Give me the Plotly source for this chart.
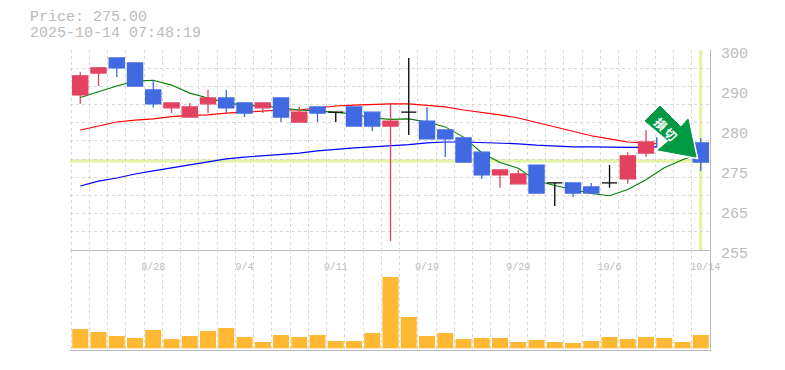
import plotly.graph_objects as go

# ---- data ----
idx = list(range(35))
opens = [289.9,294.8,298.2,297.1,291.0,287.0,284.9,287.9,289.2,288.1,287.0,289.2,283.8,287.2,286.0,287.2,286.0,282.9,286.0,284.0,282.0,280.2,277.0,271.9,269.9,274.1,270.1,270.1,269.2,270.1,271.0,276.8,280.2,279.1,279.1]
highs = [295.0,296.2,298.2,297.1,293.2,288.1,288.1,291.0,291.0,288.1,288.1,289.2,287.2,287.2,286.0,287.2,286.0,288.1,298.2,287.2,282.0,280.2,277.0,273.0,273.0,274.1,270.1,270.1,270.1,274.1,277.0,282.0,280.2,279.1,280.2]
lows = [287.9,291.9,293.9,291.9,287.0,285.8,284.9,285.8,285.8,284.9,285.8,283.8,283.8,283.8,283.8,282.9,281.8,257.0,280.9,280.0,275.9,274.8,271.0,269.0,269.9,267.8,264.9,266.9,267.8,269.0,269.9,275.9,278.2,278.2,272.8]
closes = [294.2,296.0,296.0,291.9,287.9,288.1,287.2,289.2,287.0,285.8,288.1,284.9,286.0,285.8,286.0,282.9,282.9,284.0,286.0,280.0,280.0,274.8,271.9,273.0,272.1,267.8,270.1,267.8,267.8,270.1,276.2,279.3,278.2,278.2,274.8]

ma_short = [289.3,290.6,291.9,293.0,293.2,292.1,290.3,289.2,288.1,287.6,287.4,287.0,286.5,286.3,286.0,285.6,284.7,284.4,284.5,283.8,282.7,280.4,276.9,274.7,273.4,270.6,269.5,268.6,267.7,267.2,268.6,270.8,273.5,275.3,276.7]
ma_mid = [282.0,282.9,283.8,284.2,284.5,285.0,285.3,285.4,285.8,286.0,286.2,286.5,286.5,287.0,287.4,287.6,287.8,287.9,287.9,287.6,287.2,286.5,286.0,285.4,284.7,283.7,282.7,281.7,280.7,280.0,279.3,279.1,278.7,278.4,278.2]
ma_long = [269.4,270.5,271.2,272.1,272.8,273.5,274.1,274.8,275.5,275.9,276.2,276.4,276.8,277.3,277.7,278.0,278.2,278.4,278.7,279.1,279.3,279.3,279.2,279.1,278.9,278.6,278.4,278.2,278.2,278.1,278.1,278.1,278.4,278.6,278.9]
volumes = [19.3,16.3,12.3,10.3,18.3,9.3,12.3,17.3,20.3,11.3,6.3,13.3,11.3,13.3,7.3,7.3,15.3,71.3,31.3,12.3,15.3,9.3,10.3,10.3,6.3,8.3,6.3,5.3,7.3,11.3,9.3,11.3,10.3,6.3,13.3]
date_ticks = [4, 9, 14, 19, 24, 29, 34.25]
date_labels = ["8/28", "9/4", "9/11", "9/19", "9/29", "10/6", "10/14"]
price_ticks = [300, 291, 282, 273, 264, 255]
price_labels = ["300", "290", "280", "275", "265", "255"]
price_now = 275.0
stamp_title = "Price: 275.00"
stamp_time = "2025-10-14 07:48:19"
arrow_label = "損\u2009切"

GRAY = "#bbbbbb"
GRID = "#d8d8d8"
RED = "#E2425F"
BLUE = "#4169E1"
GREEN = "#009944"
MONO = "Liberation Mono"

x_grid = [i - 0.5 for i in idx]
y_grid = [300 - k * 45 / 11 for k in range(12)]
arrow_outline = [(660, 106), (681, 127), (688, 119), (696, 157), (658, 150), (669, 141), (645, 121)]


def select(cond):
    keep = [i for i in idx if cond(opens[i], closes[i])]
    return dict(
        x=keep,
        open=[opens[i] for i in keep],
        high=[highs[i] for i in keep],
        low=[lows[i] for i in keep],
        close=[closes[i] for i in keep],
    )


def px_path(points):
    parts = []
    for n, (px, py) in enumerate(points):
        parts.append("%s %f %f" % ("M" if n == 0 else "L", (px - 70) / 640, (350 - py) / 300))
    return " ".join(parts) + " Z"


fig = go.Figure()
for vals, col, w in [(ma_long, "#0000FF", 1.2), (ma_mid, "#FF0000", 1.2), (ma_short, "#008000", 1.1)]:
    fig.add_trace(go.Scatter(x=idx, y=vals, mode="lines", line=dict(color=col, width=w),
                             showlegend=False, hoverinfo="skip", xaxis="x", yaxis="y"))

for cond, col in [
    (lambda o, c: c > o, RED),
    (lambda o, c: c < o, BLUE),
    (lambda o, c: c == o, "#000000"),
]:
    style = dict(line=dict(color=col, width=1.3), fillcolor=col)
    fig.add_trace(go.Candlestick(**select(cond), increasing=style, decreasing=style,
                                 whiskerwidth=0, showlegend=False, hoverinfo="skip",
                                 xaxis="x3", yaxis="y3"))

fig.add_trace(go.Bar(x=idx, y=volumes, marker=dict(color="#FFB833", line=dict(width=0)),
                     showlegend=False, hoverinfo="skip", xaxis="x2", yaxis="y2"))

minor_x = dict(tickvals=x_grid, showgrid=True, gridcolor=GRID, griddash="3px,3px", gridwidth=1, ticklen=0)
x_range = [-0.562, 34.505]
y_range = [255, 300]

fig.update_layout(
    width=785, height=370,
    margin=dict(l=70, r=75, t=50, b=20, autoexpand=False),
    paper_bgcolor="white", plot_bgcolor="white",
    bargap=0.12, boxgap=0.17, boxgroupgap=0, showlegend=False,
    font=dict(family=MONO, color=GRAY),
    xaxis=dict(
        domain=[0, 1], range=x_range, anchor="y", type="linear",
        tickmode="array", tickvals=date_ticks, ticktext=date_labels,
        tickfont=dict(family=MONO, size=10, color=GRAY),
        showgrid=False, zeroline=False, ticks="", ticklabelstandoff=7,
        showline=True, linecolor=GRAY, linewidth=1, minor=minor_x,
    ),
    yaxis=dict(
        domain=[1 / 3, 1], range=y_range, side="right", anchor="x",
        tickmode="array", tickvals=price_ticks, ticktext=price_labels,
        tickfont=dict(family=MONO, size=15, color=GRAY),
        ticklabelshift=3, ticklabelstandoff=7,
        showgrid=False, zeroline=False, ticks="",
        showline=True, linecolor=GRAY, linewidth=1,
        minor=dict(tickvals=y_grid, showgrid=True, gridcolor=GRID, griddash="3px,3px", gridwidth=1, ticklen=0),
    ),
    xaxis3=dict(overlaying="x", anchor="y3", range=x_range, type="linear", visible=False,
                rangeslider=dict(visible=False), showgrid=False, zeroline=False),
    yaxis3=dict(overlaying="y", anchor="x3", range=y_range, side="right", visible=False,
                showgrid=False, zeroline=False),
    xaxis2=dict(
        domain=[0, 1], range=x_range, anchor="y2", type="linear",
        showticklabels=False, showgrid=False, zeroline=False, ticks="",
        showline=True, linecolor=GRAY, linewidth=1, minor=minor_x,
    ),
    yaxis2=dict(
        domain=[0, 0.3317], range=[-1.7, 97.8], side="right", anchor="x2",
        showticklabels=False, showgrid=False, zeroline=False, ticks="",
        showline=True, linecolor=GRAY, linewidth=1,
    ),
    shapes=[
        dict(type="line", xref="paper", x0=0, x1=1, yref="y", y0=price_now, y1=price_now,
             line=dict(color="#E4F5A8", width=3.5), layer="below"),
        dict(type="line", xref="x", x0=idx[-1], x1=idx[-1], yref="y domain", y0=0, y1=1,
             line=dict(color="#E4F5A8", width=3.5), layer="below"),
        dict(type="path", xref="paper", yref="paper",
             path=px_path([(657.5, 128), (680, 128), (680, 152), (657.5, 151)]),
             fillcolor="white", line=dict(width=0), layer="above"),
        dict(type="path", xref="paper", yref="paper", path=px_path(arrow_outline),
             fillcolor="white", line=dict(color="white", width=4), layer="above"),
        dict(type="path", xref="paper", yref="paper", path=px_path(arrow_outline),
             fillcolor=GREEN, line=dict(color=GREEN, width=1), layer="above"),
    ],
    annotations=[
        dict(text=stamp_title, xref="paper", yref="paper", x=(28 - 70) / 640, y=(350 - 18) / 300,
             xanchor="left", yanchor="middle", showarrow=False, font=dict(family=MONO, size=15, color=GRAY)),
        dict(text=stamp_time, xref="paper", yref="paper", x=(28 - 70) / 640, y=(350 - 33) / 300,
             xanchor="left", yanchor="middle", showarrow=False, font=dict(family=MONO, size=15, color=GRAY)),
        dict(text="<b>%s</b>" % arrow_label, xref="paper", yref="paper", x=(666 - 70) / 640, y=(350 - 128.5) / 300,
             xanchor="center", yanchor="middle", showarrow=False, textangle=45,
             font=dict(family="Noto Sans CJK JP", size=12, color="white")),
    ],
)

fig.write_html("out.html", config={"displayModeBar": False}, post_script="document.body.style.margin='0';")
